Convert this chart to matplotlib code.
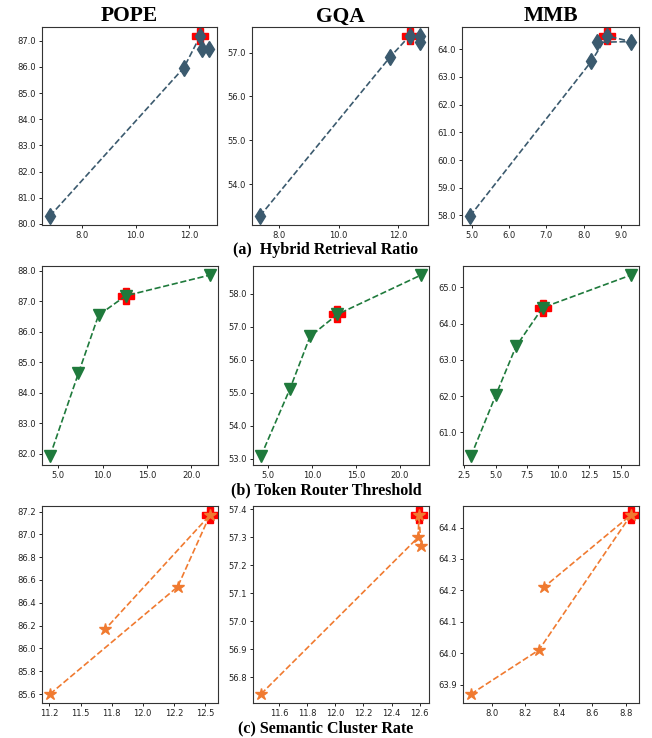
import matplotlib
matplotlib.use("Agg")
import matplotlib.pyplot as plt
from matplotlib.ticker import MultipleLocator, FormatStrFormatter

# ---------------- data ----------------
datasets = ["POPE", "GQA", "MMB"]
row_captions = ["(a)  Hybrid Retrieval Ratio", "(b) Token Router Threshold", "(c) Semantic Cluster Rate"]

# (a) Hybrid Retrieval Ratio
pope_hr_x = [6.8, 11.8, 12.41, 12.46, 12.74]
pope_hr_y = [80.3, 85.97, 87.18, 86.67, 86.67]
gqa_hr_x = [7.38, 11.71, 12.37, 12.72, 12.72]
gqa_hr_y = [53.27, 56.89, 57.38, 57.38, 57.24]
mmb_hr_x = [4.95, 8.21, 8.63, 9.27, 8.36]
mmb_hr_y = [57.98, 63.57, 64.48, 64.28, 64.25]
hr_best = 2

# (b) Token Router Threshold
pope_tr_x = [4.06, 7.27, 9.53, 12.6, 22.1]
pope_tr_y = [81.92, 84.64, 86.54, 87.18, 87.86]
gqa_tr_x = [4.2, 7.49, 9.78, 12.9, 22.4]
gqa_tr_y = [53.09, 55.12, 56.71, 57.38, 58.57]
mmb_tr_x = [3.03, 5.03, 6.63, 8.76, 15.83]
mmb_tr_y = [60.35, 62.04, 63.37, 64.44, 65.34]
tr_best = 3

# (c) Semantic Cluster Rate
pope_sc_x = [11.255, 12.28, 12.54, 11.70]
pope_sc_y = [85.6, 86.54, 87.17, 86.17]
gqa_sc_x = [11.47, 12.59, 12.595, 12.61]
gqa_sc_y = [56.74, 57.30, 57.38, 57.27]
mmb_sc_x = [7.875, 8.28, 8.83, 8.31]
mmb_sc_y = [63.87, 64.01, 64.44, 64.21]
sc_best = 2

rows = [
    dict(series=[(pope_hr_x, pope_hr_y), (gqa_hr_x, gqa_hr_y), (mmb_hr_x, mmb_hr_y)],
         best=hr_best, color="#3b5a6e", marker="d", ms=8,
         xstep=[2.0, 2.0, 1.0], ystep=[1.0, 1.0, 1.0]),
    dict(series=[(pope_tr_x, pope_tr_y), (gqa_tr_x, gqa_tr_y), (mmb_tr_x, mmb_tr_y)],
         best=tr_best, color="#1f7a3c", marker="v", ms=8,
         xstep=[5.0, 5.0, 2.5], ystep=[1.0, 1.0, 1.0]),
    dict(series=[(pope_sc_x, pope_sc_y), (gqa_sc_x, gqa_sc_y), (mmb_sc_x, mmb_sc_y)],
         best=sc_best, color="#f07a30", marker="*", ms=9,
         xstep=[0.25, 0.2, 0.2], ystep=[0.2, 0.1, 0.1]),
]

# ---------------- layout (pixels) ----------------
W, H = 652, 738
fig = plt.figure(figsize=(W / 100, H / 100), dpi=100)

col_lr = [[(42, 217), (252, 428), (462, 639)],
          [(42, 218), (253, 429), (463, 639)],
          [(42, 218), (253, 429), (463, 639)]]
row_tb = [(27, 225), (266, 465), (506, 703)]
caption_y = [250, 490, 728]

serif = ["Liberation Serif", "DejaVu Serif"]

for r, row in enumerate(rows):
    top, bot = row_tb[r]
    for c in range(3):
        l, rr = col_lr[r][c]
        ax = fig.add_axes([l / W, 1 - bot / H, (rr - l) / W, (bot - top) / H])
        xs, ys = row["series"][c]
        b = row["best"]
        ax.plot([xs[b]], [ys[b]], linestyle="none", marker="P", color="red",
                markersize=11, zorder=2)
        ax.plot(xs, ys, linestyle="--", linewidth=1.2, color=row["color"],
                marker=row["marker"], markersize=row["ms"], zorder=3)
        ax.xaxis.set_major_locator(MultipleLocator(row["xstep"][c]))
        ax.yaxis.set_major_locator(MultipleLocator(row["ystep"][c]))
        ax.xaxis.set_major_formatter(FormatStrFormatter("%.1f"))
        ax.yaxis.set_major_formatter(FormatStrFormatter("%.1f"))
        ax.tick_params(labelsize=6, length=2.5, width=0.7, pad=2, colors="#222222")
        for s in ax.spines.values():
            s.set_linewidth(0.8)
            s.set_color("#333333")
        if r == 0:
            ax.set_title(datasets[c], fontsize=15.5, fontweight="bold",
                         family=serif, pad=4)
    fig.text(0.5, 1 - caption_y[r] / H, row_captions[r], ha="center", va="center",
             fontsize=11.5, fontweight="bold", family=serif)

fig.savefig("out.png", dpi=100)
